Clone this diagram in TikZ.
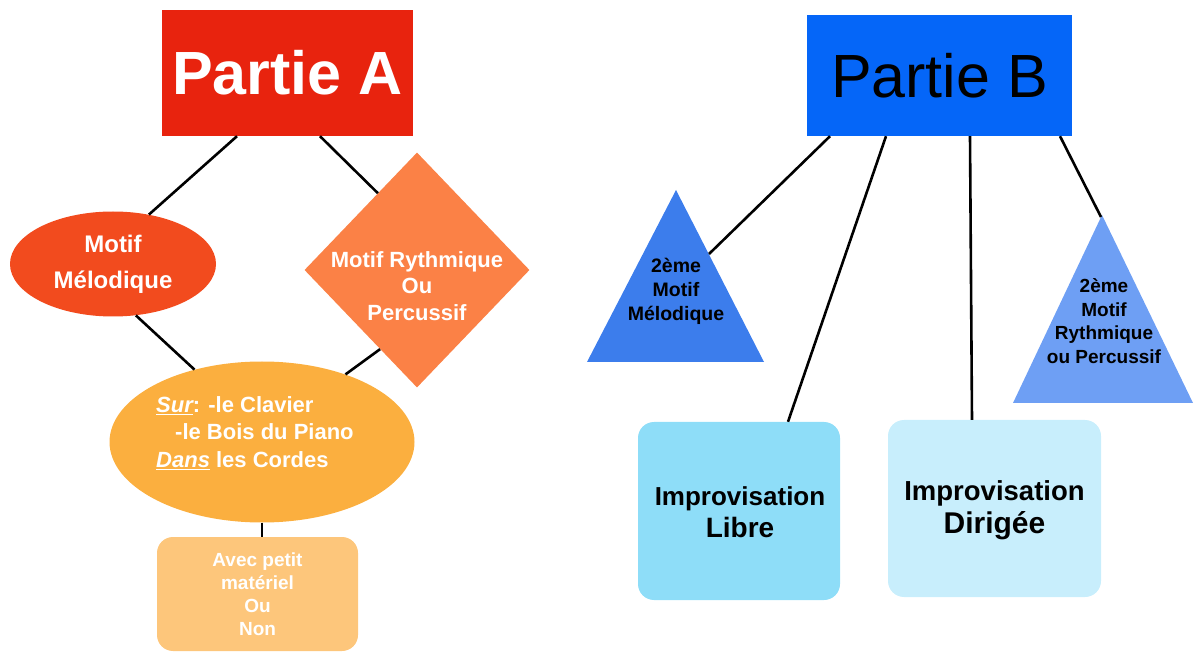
\documentclass[tikz,border=0pt]{standalone}
\usepackage{fontspec}
\setmainfont{Liberation Sans}
\usetikzlibrary{shapes.geometric}
\definecolor{cPA}{HTML}{E8230E}
\definecolor{cPB}{HTML}{0566F8}
\definecolor{cMM}{HTML}{F24B1E}
\definecolor{cDM}{HTML}{FB8146}
\definecolor{cSU}{HTML}{FBAF3F}
\definecolor{cAV}{HTML}{FDC67B}
\definecolor{cTA}{HTML}{3C7DEC}
\definecolor{cTB}{HTML}{6E9FF4}
\definecolor{cLI}{HTML}{8EDDF8}
\definecolor{cDI}{HTML}{C8EEFC}
\newcommand{\fsz}[2]{\fontsize{#1}{#2}\selectfont}
\begin{document}
\begin{tikzpicture}[x=1pt,y=-1pt,
  conn/.style={draw=black, line width=2.6pt},
  wlbl/.style={text=white, align=center, inner sep=0pt, font=\bfseries},
  blbl/.style={text=black, align=center, inner sep=0pt, font=\bfseries},
  title/.style={inner sep=0pt},
  rbox/.style={rounded corners=16pt, inner sep=0pt}]
\useasboundingbox (0,0) rectangle (1195,652);
% ---------- Partie A ----------
\node[title, fill=cPA, minimum width=251pt, minimum height=126pt, text=white,
      font=\fsz{61}{70}\bfseries] (pa) at (287.5,73) {Partie A};
\node[ellipse, fill=cMM, minimum width=206pt, minimum height=105pt, wlbl,
      font=\fsz{24}{36}\bfseries] (mm) at (113,264) {Motif\\Mélodique};
\node[diamond, fill=cDM, minimum width=225pt, minimum height=235pt, inner sep=0pt] (dm) at (417,270) {};
\node[wlbl, font=\fsz{22}{26.5}\bfseries] (dmt) at (417,286) {Motif Rythmique\\Ou\\Percussif};
\node[ellipse, fill=cSU, minimum width=305pt, minimum height=161pt, inner sep=0pt] (su) at (262,442) {};
\node[text=white, align=left, inner sep=0pt, anchor=west, font=\fsz{22}{27.5}\bfseries] (sut) at (156,433)
  {\underline{\itshape Sur}: -le Clavier\\\hspace*{19pt}-le Bois du Piano\\\underline{\itshape Dans} les Cordes};
\node[rbox, fill=cAV, minimum width=201pt, minimum height=114pt, wlbl,
      font=\fsz{19}{23}\bfseries] (av) at (257.5,594) {Avec petit\\matériel\\Ou\\Non};
\draw[conn] ([xshift=-50.5pt]pa.south) -- (mm.54);
\draw[conn] ([xshift=32.5pt]pa.south) -- (dm.117);
\draw[conn] (mm.-66) -- (su.133);
\draw[conn] (dm.245) -- (su.39);
\draw[conn] (su.south) -- (su.south |- av.north);
% ---------- Partie B ----------
\node[title, fill=cPB, minimum width=265pt, minimum height=121pt, text=black,
      font=\fsz{61}{70}] (pb) at (939.5,75.5) {Partie B};
\fill[cTA] (676,190) -- (764,362) -- (587,362) -- cycle;
\coordinate (tAr) at (709,254);
\node[blbl, font=\fsz{19.5}{24}\bfseries] (tA) at (676,291) {2ème\\Motif\\Mélodique};
\fill[cTB] (1102,215) -- (1193,403) -- (1013,403) -- cycle;
\coordinate (tBapex) at (1101,217);
\node[blbl, font=\fsz{19}{23.5}\bfseries] (tB) at (1104,321) {2ème\\Motif\\Rythmique\\ou Percussif};
\node[rbox, fill=cLI, minimum width=202pt, minimum height=178pt] (li) at (739,511) {};
\node[blbl, font=\fsz{26}{32}\bfseries] (lit) at (740,512)
  {Improvisation\\{\fsz{28}{32}\bfseries Libre}};
\node[rbox, fill=cDI, minimum width=213pt, minimum height=177pt] (di) at (994.5,508.5) {};
\node[blbl, font=\fsz{27.5}{33}\bfseries] (dit) at (994.5,510)
  {Improvisation\\{\fsz{30}{33}\bfseries Dirigée}};
\draw[conn] ([xshift=-109.5pt]pb.south) -- (tAr);
\draw[conn] ([xshift=-53.5pt]pb.south) -- ([xshift=49pt]li.north);
\draw[conn] ([xshift=30.5pt]pb.south) -- ([xshift=-22.5pt]di.north);
\draw[conn] ([xshift=120.5pt]pb.south) -- (tBapex);
\end{tikzpicture}
\end{document}
